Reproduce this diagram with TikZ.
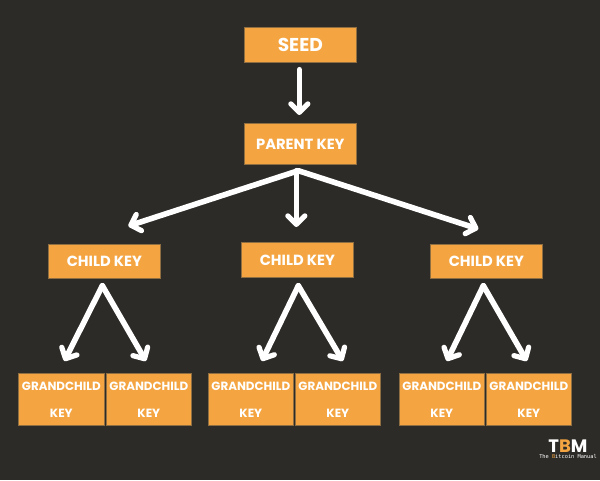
\documentclass[tikz,border=0pt]{standalone}
\usepackage{fontspec}
\setmainfont{Poppins}
\newfontfamily\logomono{DejaVu Sans Mono}
\usetikzlibrary{arrows.meta,calc}
\definecolor{bgdark}{HTML}{2D2B28}
\definecolor{boxorange}{HTML}{F4A542}
\definecolor{boxedge}{HTML}{8F6F42}
\tikzset{
  x=1pt,y=-1pt,
  keybox/.style={draw=boxedge,line width=.7pt,fill=boxorange,text=white,anchor=north west,inner sep=0pt,align=center,font=\bfseries\fontsize{14.7}{14.7}\selectfont},
  grandbox/.style={keybox,minimum width=85pt,minimum height=52pt,font=\bfseries\fontsize{11.9}{27}\selectfont},
  flow/.style={draw=white,line width=5.6pt,line cap=round,line join=round,-{Straight Barb[round,length=8.5pt,width=17pt,line width=5.2pt]}}
}
\begin{document}
\begin{tikzpicture}
\useasboundingbox (0,0) rectangle (600,480);
\fill[bgdark] (0,0) rectangle (600,480);
\node[keybox,minimum width=112pt,minimum height=35pt] (seed) at (244,27) {\fontsize{18.6}{18.6}\selectfont SEED};
\node[keybox,minimum width=112pt,minimum height=41pt] (parent) at (244,123) {PARENT KEY};
\node[keybox,minimum width=112pt,minimum height=34pt] (childa) at (48,244) {CHILD KEY};
\node[keybox,minimum width=112pt,minimum height=35pt] (childb) at (241,242) {CHILD KEY};
\node[keybox,minimum width=112pt,minimum height=34pt] (childc) at (430,244) {CHILD KEY};
\node[grandbox,minimum width=86pt] (ga) at (18,373) {GRANDCHILD\\KEY};
\node[grandbox] (gb) at (106,373) {GRANDCHILD\\KEY};
\node[grandbox] (gc) at (208,373) {GRANDCHILD\\KEY};
\node[grandbox] (gd) at (295,373) {GRANDCHILD\\KEY};
\node[grandbox] (ge) at (399,373) {GRANDCHILD\\KEY};
\node[grandbox] (gf) at (486,373) {GRANDCHILD\\KEY};
\draw[flow] ($(seed.south)+(-1,7)$) -- ($(parent.north)+(-1,-8)$);
\draw[flow] ($(parent.south)+(-2,6)$) -- ($(childa.north)+(24,-18)$);
\draw[flow] ($(parent.south)+(-4,6)$) -- ($(childb.north)+(-1,-15)$);
\draw[flow] ($(parent.south)+(-2,6)$) -- ($(childc.north)+(-8,-15)$);
\draw[flow] ($(childa.south)+(-2,7)$) -- ($(ga.north)+(3,-12)$);
\draw[flow] ($(childa.south)+(-2,7)$) -- ($(gb.north)+(-3,-12)$);
\draw[flow] ($(childb.south)+(1,8)$) -- ($(gc.north)+(11,-12)$);
\draw[flow] ($(childb.south)+(1,8)$) -- ($(gd.north)+(5,-12)$);
\draw[flow] ($(childc.south)+(-3,7)$) -- ($(ge.north)+(5,-12)$);
\draw[flow] ($(childc.south)+(-3,7)$) -- ($(gf.north)+(-2,-12)$);
\node[text=white,font=\bfseries\fontsize{18}{18}\selectfont,inner sep=0pt] (logo) at (568,446) {T\textcolor{boxorange}{B}M};
\node[text=white,font=\logomono\fontsize{5.3}{6}\selectfont,inner sep=0pt] (logotag) at (568,457) {The \textcolor{boxorange}{B}itcoin Manual};
\end{tikzpicture}
\end{document}
